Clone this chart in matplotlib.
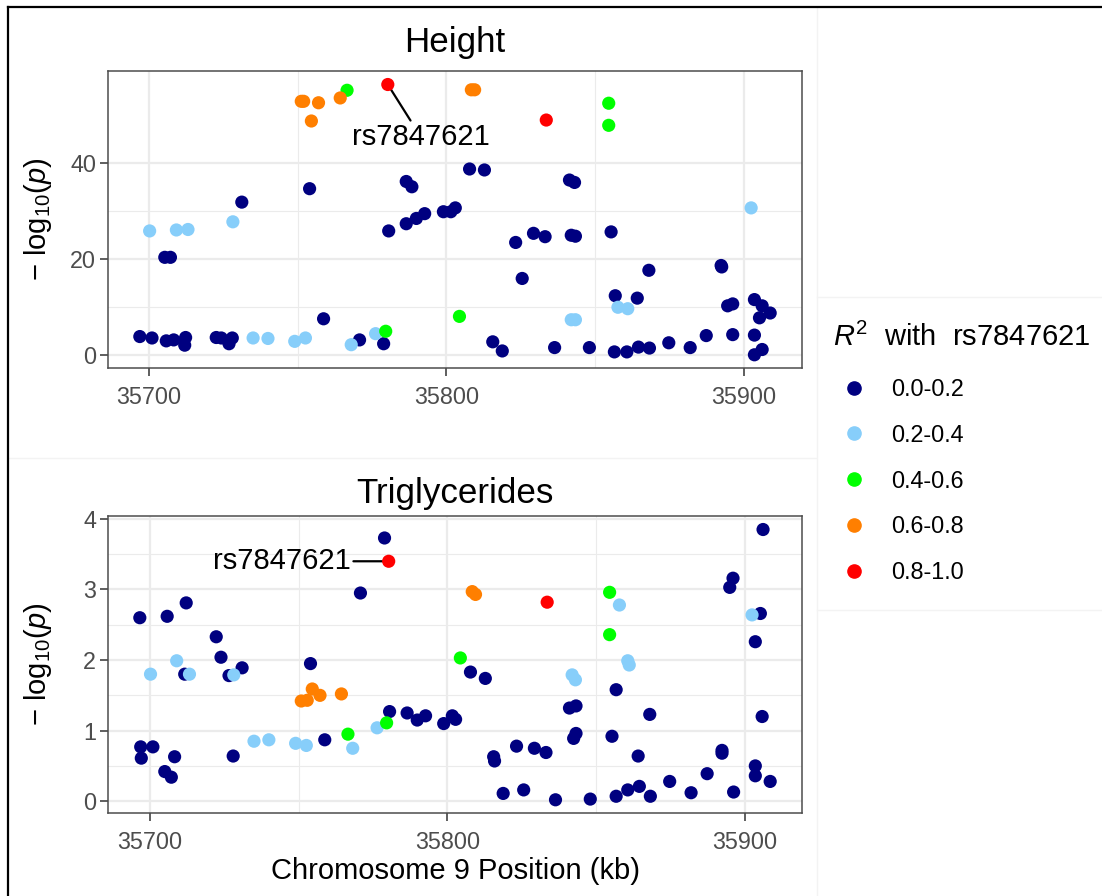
import matplotlib
matplotlib.use("Agg")
import matplotlib.pyplot as plt
from matplotlib.lines import Line2D
import numpy as np

plt.rcParams['font.family'] = ['Liberation Sans', 'DejaVu Sans']
plt.rcParams['mathtext.fontset'] = 'custom'
plt.rcParams['mathtext.rm'] = 'Liberation Sans'
plt.rcParams['mathtext.it'] = 'Liberation Sans:italic'

# R^2 classes: 0 = 0.0-0.2, 1 = 0.2-0.4, 2 = 0.4-0.6, 3 = 0.6-0.8, 4 = 0.8-1.0
r2_labels = ['0.0-0.2', '0.2-0.4', '0.4-0.6', '0.6-0.8', '0.8-1.0']
r2_colors = ['#000080', '#87CEFA', '#00FF00', '#FF7F00', '#FF0000']
lead_snp = 'rs7847621'

# Height panel
height_pos = [
    35754.0, 35731.2, 35705.3, 35707.2, 35780.6, 35786.5, 35788.4, 35786.5, 35789.9, 35792.7,
    35799.0, 35801.5, 35803.0, 35696.9, 35701.0, 35705.8, 35708.3, 35712.3, 35712.0, 35722.6,
    35724.3, 35726.9, 35728.0, 35758.7, 35770.8, 35778.9, 35807.8, 35812.8, 35841.4, 35843.1,
    35823.3, 35829.3, 35833.2, 35842.0, 35843.4, 35855.4, 35825.5, 35868.1, 35892.4, 35892.6,
    35856.8, 35864.2, 35894.6, 35896.3, 35903.6, 35906.2, 35908.9, 35905.3, 35815.6, 35818.8,
    35836.4, 35848.1, 35856.5, 35860.7, 35864.6, 35868.3, 35874.8, 35882.0, 35887.4, 35896.3,
    35903.6, 35903.6, 35906.2,
    35700.2, 35709.2, 35713.1, 35728.2, 35735.0, 35740.0, 35749.0, 35752.6, 35768.0, 35776.2,
    35902.5, 35857.7, 35861.0, 35842.0, 35843.4,
    35766.6, 35854.6, 35854.6, 35804.4, 35779.6,
    35751.2, 35752.0, 35757.0, 35754.6, 35764.3, 35808.4, 35809.5,
    35780.3, 35833.6,
]
height_logp = [
    34.7, 31.9, 20.4, 20.4, 25.9, 36.2, 35.1, 27.4, 28.5, 29.5,
    29.9, 29.9, 30.7, 3.9, 3.6, 3.0, 3.2, 3.7, 2.1, 3.7,
    3.6, 2.4, 3.6, 7.6, 3.2, 2.4, 38.8, 38.6, 36.5, 36.0,
    23.5, 25.4, 24.7, 25.0, 24.8, 25.7, 16.0, 17.7, 18.7, 18.4,
    12.4, 11.9, 10.3, 10.7, 11.6, 10.3, 8.8, 7.8, 2.8, 0.9,
    1.6, 1.6, 0.7, 0.7, 1.7, 1.5, 2.6, 1.6, 4.1, 4.3,
    4.2, 0.1, 1.2,
    25.9, 26.1, 26.2, 27.8, 3.6, 3.5, 2.9, 3.6, 2.2, 4.5,
    30.7, 10.0, 9.7, 7.4, 7.4,
    55.2, 52.5, 47.9, 8.1, 5.0,
    52.9, 52.9, 52.6, 48.8, 53.6, 55.3, 55.3,
    56.4, 49.0,
]
height_r2 = [0] * 63 + [1] * 15 + [2] * 5 + [3] * 7 + [4] * 2

# Triglycerides panel
trig_pos = [
    35778.9, 35770.8, 35696.6, 35705.8, 35712.2, 35722.3, 35723.9, 35731.0, 35726.6, 35711.7,
    35754.0, 35780.6, 35786.5, 35789.9, 35792.7, 35798.8, 35801.7, 35802.8, 35758.8, 35696.9,
    35697.1, 35701.0, 35708.3, 35705.0, 35707.2, 35728.0, 35906.2, 35896.1, 35895.0, 35905.3,
    35903.6, 35807.8, 35812.8, 35856.8, 35841.1, 35843.3, 35868.1, 35905.9, 35842.5, 35843.3,
    35855.4, 35823.3, 35829.3, 35833.2, 35815.6, 35815.9, 35864.2, 35892.4, 35892.4, 35903.6,
    35903.6, 35908.6, 35887.4, 35874.8, 35882.0, 35896.3, 35818.8, 35825.7, 35836.4, 35848.1,
    35856.8, 35860.7, 35864.6, 35868.3,
    35700.2, 35709.0, 35713.3, 35728.2, 35776.4, 35768.2, 35735.0, 35740.0, 35749.0, 35752.6,
    35857.9, 35842.0, 35843.1, 35860.7, 35861.2, 35902.5,
    35779.6, 35766.6, 35854.6, 35854.6, 35804.4,
    35750.9, 35752.9, 35754.6, 35757.2, 35764.4, 35808.4, 35809.5,
    35780.3, 35833.6,
]
trig_logp = [
    3.73, 2.95, 2.60, 2.62, 2.81, 2.33, 2.04, 1.89, 1.78, 1.80,
    1.95, 1.27, 1.25, 1.15, 1.21, 1.10, 1.21, 1.16, 0.87, 0.77,
    0.61, 0.77, 0.63, 0.42, 0.34, 0.64, 3.85, 3.16, 3.03, 2.66,
    2.26, 1.83, 1.74, 1.58, 1.32, 1.35, 1.23, 1.20, 0.89, 0.96,
    0.92, 0.78, 0.75, 0.69, 0.63, 0.57, 0.64, 0.72, 0.68, 0.50,
    0.36, 0.28, 0.39, 0.28, 0.12, 0.13, 0.11, 0.16, 0.02, 0.03,
    0.07, 0.16, 0.21, 0.07,
    1.80, 1.99, 1.80, 1.79, 1.04, 0.75, 0.85, 0.87, 0.82, 0.79,
    2.78, 1.79, 1.72, 1.99, 1.93, 2.64,
    1.11, 0.95, 2.96, 2.36, 2.03,
    1.42, 1.43, 1.59, 1.50, 1.52, 2.97, 2.93,
    3.40, 2.82,
]
trig_r2 = [0] * 64 + [1] * 16 + [2] * 5 + [3] * 7 + [4] * 2

W, H = 1102, 896
fig = plt.figure(figsize=(W / 100, H / 100), dpi=100)


def fx(px):
    return px / W


def fy(py):
    return 1 - py / H


def panel(rect, pos, logp, r2, yticks, title, title_y):
    ax = fig.add_axes(rect)
    pos = np.array(pos)
    logp = np.array(logp)
    r2 = np.array(r2)
    colors = np.array(r2_colors)[r2]
    ax.scatter(pos, logp, c=colors, s=90, linewidths=0, zorder=3)

    x0, x1 = pos.min(), pos.max()
    y0, y1 = logp.min(), logp.max()
    ax.set_xlim(x0 - 0.05 * (x1 - x0), x1 + 0.05 * (x1 - x0))
    ax.set_ylim(y0 - 0.05 * (y1 - y0), y1 + 0.05 * (y1 - y0))

    ax.set_xticks([35700, 35800, 35900])
    ax.set_xticks([35750, 35850], minor=True)
    ax.set_yticks(yticks)
    ax.set_yticks([(a + b) / 2 for a, b in zip(yticks[:-1], yticks[1:])], minor=True)
    ax.grid(True, which='major', color='#EBEBEB', lw=1.6, zorder=0)
    ax.grid(True, which='minor', color='#EBEBEB', lw=0.8, zorder=0)
    ax.set_axisbelow(True)
    for s in ax.spines.values():
        s.set_color('#4D4D4D')
        s.set_linewidth(1.1)
    ax.tick_params(which='major', length=5.8, width=1.1, color='#333333',
                   labelsize=16.8, labelcolor='#4D4D4D', pad=3)
    ax.tick_params(axis='x', which='major', pad=7)
    ax.tick_params(which='minor', length=0)
    ax.set_ylabel('\u2212 log$_{10}$($p$)', fontsize=21)
    ax.yaxis.set_label_coords(-0.079, 0.5)
    fig.text(fx(455), fy(title_y), title, fontsize=25.2, ha='center', va='baseline')
    return ax, pos, logp, r2


ax1, p1, l1, c1 = panel([fx(108.3), fy(368.3), fx(801.7) - fx(108.3), fy(71) - fy(368.3)],
                        height_pos, height_logp, height_r2, [0, 20, 40], 'Height', 52)
ax2, p2, l2, c2 = panel([fx(108.3), fy(813.3), fx(801.7) - fx(108.3), fy(516) - fy(813.3)],
                        trig_pos, trig_logp, trig_r2, [0, 1, 2, 3, 4], 'Triglycerides', 503)
ax2.set_xlabel('Chromosome 9 Position (kb)', fontsize=21)
ax2.xaxis.set_label_coords(0.5, -0.148)

# label the lead SNP (highest red point in each panel)
i1 = int(np.argmax(np.where(c1 == 4, l1, -1)))
ax1.annotate(lead_snp, xy=(p1[i1], l1[i1]), xytext=(35791.5, 45.4), fontsize=21,
             ha='center', va='center', zorder=2,
             arrowprops=dict(arrowstyle='-', color='black', lw=1.6, shrinkA=0, shrinkB=0))
i2 = int(np.argmax(np.where(c2 == 4, l2, -1)))
ax2.annotate(lead_snp, xy=(p2[i2], l2[i2]), xytext=(35767.5, l2[i2]), fontsize=21,
             ha='right', va='center', zorder=2,
             arrowprops=dict(arrowstyle='-', color='black', lw=1.6, shrinkA=0, shrinkB=4))

# legend
fig.text(fx(833), fy(337), r'$R^2$  with  ' + lead_snp, fontsize=21, ha='left', va='center')
handles = [Line2D([], [], marker='o', ls='', color=c, markersize=9.5) for c in r2_colors]
fig.legend(handles, r2_labels, loc='center left', bbox_to_anchor=(fx(840), fy(481)),
           frameon=False, fontsize=16.8, labelspacing=0.98, borderaxespad=0,
           borderpad=0, handletextpad=1.0, handlelength=1.2)

# faint panel separators and figure frame
faint = '#F3F3F3'
fig.add_artist(Line2D([fx(8), fx(816)], [fy(458), fy(458)], color=faint, lw=1))
fig.add_artist(Line2D([fx(816.7), fx(816.7)], [fy(7), fy(896)], color=faint, lw=1))
fig.add_artist(Line2D([fx(816.7), 1], [fy(297), fy(297)], color=faint, lw=1))
fig.add_artist(Line2D([fx(816.7), 1], [fy(610), fy(610)], color=faint, lw=1))
fig.add_artist(Line2D([fx(8), fx(8)], [0, fy(7)], color='black', lw=1.6))
fig.add_artist(Line2D([fx(8), 1], [fy(7), fy(7)], color='black', lw=1.6))

fig.savefig('out.png', dpi=100)
